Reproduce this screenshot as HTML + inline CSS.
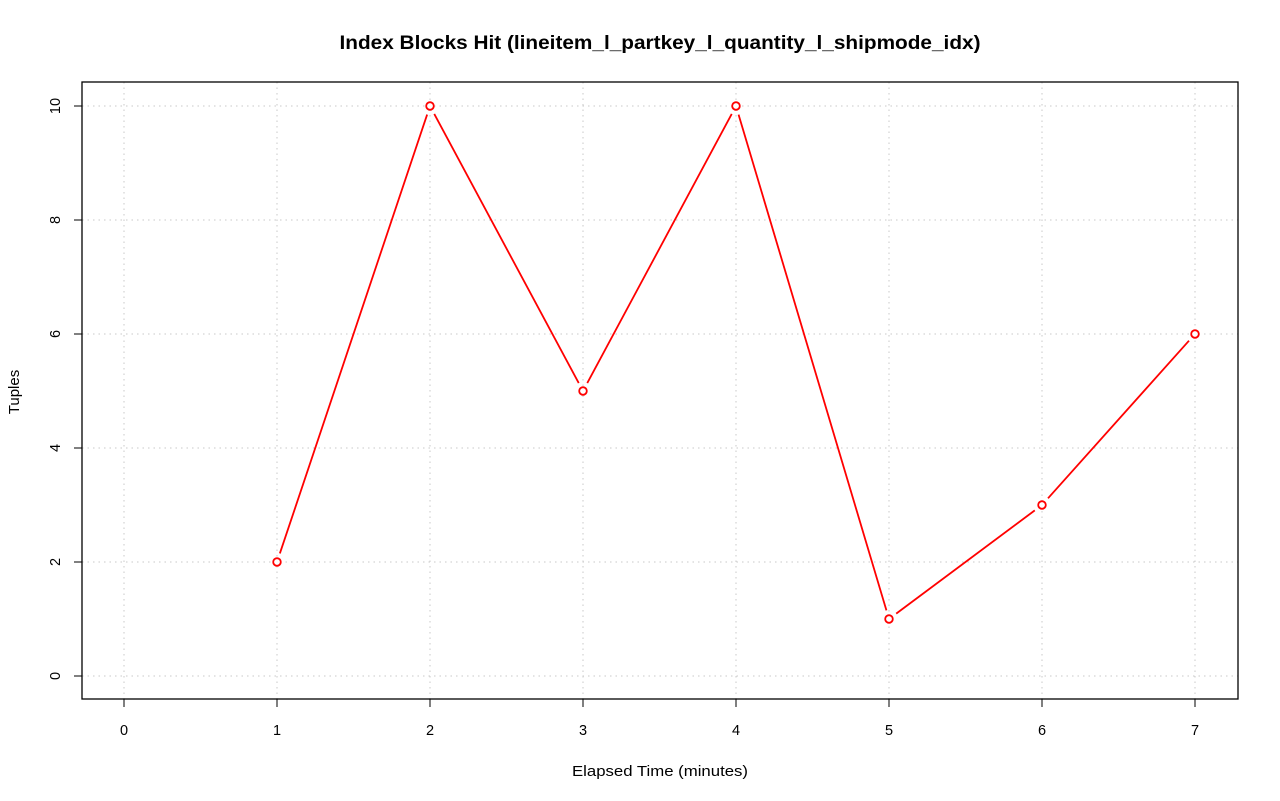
<!DOCTYPE html>
<html><head><meta charset="utf-8"><style>
body{margin:0;background:#fff;}
svg{display:block;font-family:"Liberation Sans",sans-serif;}
</style></head><body>
<svg id="chart" width="1280" height="801">
<text x="660" y="49" text-anchor="middle" font-size="19" font-weight="bold" textLength="641" lengthAdjust="spacingAndGlyphs">Index Blocks Hit (lineitem_l_partkey_l_quantity_l_shipmode_idx)</text>
<text x="660" y="776" text-anchor="middle" font-size="15" textLength="176" lengthAdjust="spacingAndGlyphs">Elapsed Time (minutes)</text>
<text transform="translate(19,392) rotate(-90)" text-anchor="middle" font-size="15">Tuples</text>
<g id="grid"></g><g id="axes"></g><g id="series"></g>
<rect x="82" y="82" width="1156" height="617" fill="none" stroke="#000" stroke-width="1.3"/>
</svg>
<script>
const xTicks=[0,1,2,3,4,5,6,7];
const yTicks=[0,2,4,6,8,10];
const xValues=[1,2,3,4,5,6,7];
const yValues=[2,10,5,10,1,3,6];
const NS="http://www.w3.org/2000/svg";
const sx=v=>124+v*153, sy=v=>676-v*57;
function mk(tag,attrs,parent){const e=document.createElementNS(NS,tag);for(const k in attrs)e.setAttribute(k,attrs[k]);parent.appendChild(e);return e;}
const grid=document.getElementById('grid'),axes=document.getElementById('axes'),ser=document.getElementById('series');
xTicks.forEach(t=>{
 const g=mk('line',{x1:sx(t),x2:sx(t),y1:82,y2:699,stroke:'#c8c8c8','stroke-dasharray':'1.5,4'},grid);
 
 
 const tk=mk('line',{x1:sx(t),x2:sx(t),y1:699,y2:707,stroke:'#000'},axes);
 
 
 const l=mk('text',{x:sx(t),y:735,'text-anchor':'middle','font-size':14.5},axes);l.textContent=t;
 
 
});
yTicks.forEach(t=>{
 const g=mk('line',{x1:82,x2:1238,y1:sy(t),y2:sy(t),stroke:'#c8c8c8','stroke-dasharray':'1.5,4'},grid);
 
 
 const tk=mk('line',{x1:74,x2:82,y1:sy(t),y2:sy(t),stroke:'#000'},axes);
 
 
 const l=mk('text',{transform:`translate(60,${sy(t)}) rotate(-90)`,'text-anchor':'middle','font-size':14.5},axes);l.textContent=t;
 
 
});
for(let i=0;i<xValues.length-1;i++){
 const x1=sx(xValues[i]),y1=sy(yValues[i]),x2=sx(xValues[i+1]),y2=sy(yValues[i+1]);
 const d=Math.hypot(x2-x1,y2-y1),gap=9,ux=(x2-x1)/d,uy=(y2-y1)/d;
 const s=mk('line',{x1:x1+ux*gap,y1:y1+uy*gap,x2:x2-ux*gap,y2:y2-uy*gap,stroke:'#f00','stroke-width':1.8},ser);
 
 
}
xValues.forEach((x,i)=>{
 const c=mk('circle',{cx:sx(x),cy:sy(yValues[i]),r:3.8,fill:'#fff',stroke:'#f00','stroke-width':1.8},ser);
 
 
});
</script>
</body></html>
